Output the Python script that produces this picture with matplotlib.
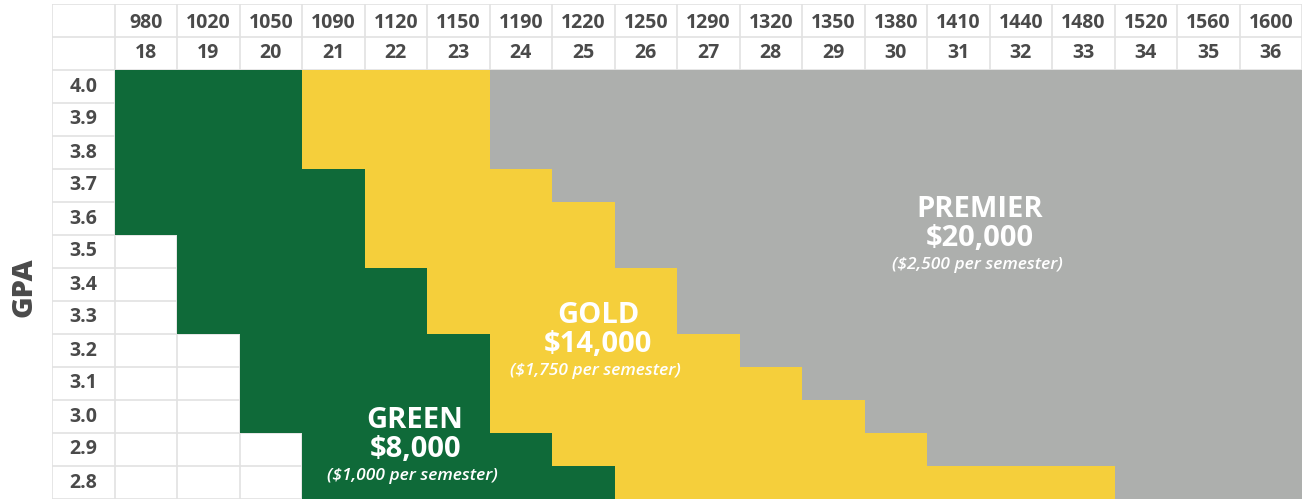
import numpy as np
import matplotlib.pyplot as plt
from matplotlib.colors import ListedColormap

sat = [980, 1020, 1050, 1090, 1120, 1150, 1190, 1220, 1250, 1290,
       1320, 1350, 1380, 1410, 1440, 1480, 1520, 1560, 1600]
act = list(range(18, 37))
gpa = ['4.0', '3.9', '3.8', '3.7', '3.6', '3.5', '3.4', '3.3',
       '3.2', '3.1', '3.0', '2.9', '2.8']

# first column (index into sat) where each tier begins, per GPA row
green_start = [0, 0, 0, 0, 0, 1, 1, 1, 2, 2, 2, 3, 3]
gold_start = [3, 3, 3, 4, 4, 4, 5, 5, 6, 6, 6, 7, 8]
premier_start = [6, 6, 6, 7, 8, 8, 9, 9, 10, 11, 12, 13, 16]

tiers = [
    ("PREMIER", "$20,000", "($2,500 per semester)"),
    ("GOLD", "$14,000", "($1,750 per semester)"),
    ("GREEN", "$8,000", "($1,000 per semester)"),
]

GREEN = '#0f6a39'
GOLD = '#f5cf3b'
GRAY = '#adafad'
TXT = '#4a4a4a'
LINE = '#e2e2e2'

plt.rcParams['font.family'] = ['Open Sans', 'DejaVu Sans']

ncol = len(sat)
nrow = len(gpa)
grid = np.zeros((nrow, ncol))
for r in range(nrow):
    for c in range(ncol):
        if c >= premier_start[r]:
            grid[r, c] = 3
        elif c >= gold_start[r]:
            grid[r, c] = 2
        elif c >= green_start[r]:
            grid[r, c] = 1
grid = np.ma.masked_equal(grid, 0)

fig = plt.figure(figsize=(13.08, 5.0), dpi=100)
W, H = 1308, 500
ax = fig.add_axes([52 / W, 1 / H, 1250 / W, 495 / H])
ax.set_xlim(-1, ncol)
ax.set_ylim(nrow + 2, 0)
ax.axis('off')

# grid lines
for x in range(-1, ncol + 1):
    ax.plot([x, x], [0, nrow + 2], color=LINE, lw=1.2, zorder=1)
for y in range(0, nrow + 3):
    ax.plot([-1, ncol], [y, y], color=LINE, lw=1.2, zorder=1)

cmap = ListedColormap([GREEN, GOLD, GRAY])
xe = np.arange(ncol + 1)
ye = np.arange(nrow + 1) + 2
ax.pcolormesh(xe, ye, grid, cmap=cmap, vmin=0.5, vmax=3.5, zorder=2,
              edgecolors='none', antialiased=False)

for i, (s, a) in enumerate(zip(sat, act)):
    ax.text(i + 0.5, 0.58, str(s), ha='center', va='center', fontsize=14,
            fontweight='bold', color=TXT)
    ax.text(i + 0.5, 1.5, str(a), ha='center', va='center', fontsize=14,
            fontweight='bold', color=TXT)
for r, g in enumerate(gpa):
    ax.text(-0.5, r + 2.5, g, ha='center', va='center', fontsize=14,
            fontweight='bold', color=TXT)

fig.text(24 / W, 1 - 287 / H, 'GPA', rotation=90, ha='center', va='center',
         fontsize=21, fontweight='heavy', color=TXT)

label_pos = [(13.85, 6.24), (7.74, 9.45), (4.81, 12.63)]
for (name, amt, sub), (x, y) in zip(tiers, label_pos):
    ax.text(x, y, name, ha='center', va='center', fontsize=21,
            fontweight='bold', color='white', zorder=3)
    ax.text(x, y + 0.88, amt, ha='center', va='center', fontsize=21,
            fontweight='bold', color='white', zorder=3)
    ax.text(x - 0.05, y + 1.66, sub, ha='center', va='center', fontsize=12.5,
            fontstyle='italic', fontweight='semibold', color='white', zorder=3)

fig.savefig('out.png', dpi=100)
